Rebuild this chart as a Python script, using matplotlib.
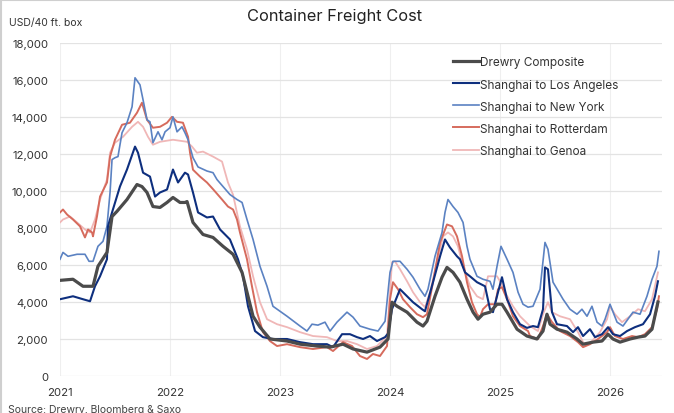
import matplotlib
matplotlib.use("Agg")
import matplotlib.pyplot as plt
from matplotlib.lines import Line2D

plt.rcParams['font.family'] = ['Inter', 'DejaVu Sans']

title = "Container Freight Cost"
ylabel = "USD/40 ft. box"
source = "Source: Drewry, Bloomberg & Saxo"
year_ticks = [2021, 2022, 2023, 2024, 2025, 2026]
y_ticks = list(range(0, 18001, 2000))

composite_t = [2021.000, 2021.118, 2021.209, 2021.300, 2021.345, 2021.427, 2021.473, 2021.518, 2021.609, 2021.700,
               2021.745, 2021.791, 2021.845, 2021.909, 2021.973, 2022.027, 2022.091, 2022.136, 2022.155, 2022.209,
               2022.300, 2022.391, 2022.482, 2022.573, 2022.655, 2022.700, 2022.755, 2022.818, 2022.909, 2023.064,
               2023.182, 2023.336, 2023.455, 2023.573, 2023.664, 2023.791, 2023.909, 2023.982, 2024.018, 2024.064,
               2024.155, 2024.245, 2024.300, 2024.336, 2024.409, 2024.473, 2024.518, 2024.573, 2024.636, 2024.700,
               2024.755, 2024.800, 2024.845, 2024.909, 2024.973, 2025.018, 2025.064, 2025.155, 2025.245, 2025.336,
               2025.391, 2025.427, 2025.455, 2025.518, 2025.609, 2025.700, 2025.755, 2025.845, 2025.927, 2025.982,
               2026.027, 2026.091, 2026.182, 2026.255, 2026.318, 2026.382, 2026.436]
composite_v = [5170, 5230, 4850, 4850, 5930, 6680, 8620, 8900, 9540, 10350,
               10240, 9920, 9160, 9110, 9380, 9650, 9380, 9380, 9430, 8300,
               7650, 7490, 7010, 6580, 5600, 4530, 3230, 2640, 2000, 1890,
               1720, 1620, 1560, 1720, 1460, 1290, 1560, 2000, 3990, 3770,
               3450, 2910, 2700, 2960, 4310, 5340, 5870, 5600, 5070, 4150,
               3450, 3070, 3340, 3450, 3880, 3880, 3450, 2530, 2160, 2000,
               2430, 3340, 2800, 2530, 2370, 2000, 1720, 1830, 1890, 2260,
               2000, 1830, 2000, 2100, 2160, 2530, 4000]

la_t = [2021.000, 2021.118, 2021.209, 2021.273, 2021.318, 2021.364, 2021.427, 2021.436, 2021.473, 2021.545,
        2021.609, 2021.682, 2021.709, 2021.755, 2021.818, 2021.864, 2021.909, 2021.973, 2022.027, 2022.073,
        2022.136, 2022.164, 2022.209, 2022.255, 2022.336, 2022.391, 2022.455, 2022.545, 2022.618, 2022.664,
        2022.709, 2022.773, 2022.845, 2022.936, 2023.064, 2023.182, 2023.300, 2023.427, 2023.482, 2023.564,
        2023.636, 2023.700, 2023.755, 2023.818, 2023.882, 2023.955, 2023.982, 2024.018, 2024.091, 2024.155,
        2024.209, 2024.291, 2024.318, 2024.391, 2024.455, 2024.500, 2024.545, 2024.609, 2024.636, 2024.682,
        2024.727, 2024.791, 2024.864, 2024.909, 2024.936, 2024.982, 2025.018, 2025.064, 2025.118, 2025.182,
        2025.245, 2025.300, 2025.345, 2025.391, 2025.409, 2025.436, 2025.473, 2025.518, 2025.609, 2025.664,
        2025.709, 2025.755, 2025.818, 2025.864, 2025.927, 2025.982, 2026.027, 2026.091, 2026.155, 2026.227,
        2026.300, 2026.364, 2026.409, 2026.436]
la_v = [4150, 4310, 4150, 4040, 4850, 5390, 6310, 8090, 8840, 10240,
        11160, 12400, 12070, 10990, 10780, 9700, 9920, 10080, 11160, 10460,
        10990, 10890, 9920, 8840, 8570, 8620, 7920, 7380, 6310, 5390,
        3770, 2430, 2100, 2000, 2000, 1830, 1720, 1720, 1560, 2260,
        2260, 2100, 2000, 2160, 1890, 2100, 2300, 3610, 4690, 4310,
        3990, 3610, 3500, 5070, 6470, 7380, 6950, 6470, 6310, 5600,
        5390, 5070, 4850, 3610, 3450, 4530, 5340, 4150, 3450, 2800,
        2600, 2700, 2640, 3610, 5870, 5770, 3450, 2800, 2700, 2370,
        2640, 2160, 2530, 2100, 2260, 2640, 2260, 2160, 2430, 2640,
        2800, 3340, 4310, 5120]

ny_t = [2021.000, 2021.027, 2021.073, 2021.155, 2021.227, 2021.264, 2021.300, 2021.345, 2021.391, 2021.427,
        2021.455, 2021.473, 2021.500, 2021.527, 2021.564, 2021.609, 2021.655, 2021.682, 2021.727, 2021.755,
        2021.791, 2021.818, 2021.845, 2021.891, 2021.927, 2021.955, 2022.000, 2022.027, 2022.064, 2022.109,
        2022.136, 2022.164, 2022.209, 2022.255, 2022.336, 2022.391, 2022.427, 2022.482, 2022.545, 2022.609,
        2022.655, 2022.700, 2022.755, 2022.818, 2022.882, 2022.936, 2023.064, 2023.182, 2023.245, 2023.291,
        2023.345, 2023.409, 2023.455, 2023.518, 2023.609, 2023.664, 2023.727, 2023.818, 2023.891, 2023.955,
        2024.000, 2024.027, 2024.091, 2024.155, 2024.209, 2024.273, 2024.318, 2024.345, 2024.409, 2024.473,
        2024.500, 2024.527, 2024.573, 2024.618, 2024.664, 2024.700, 2024.727, 2024.791, 2024.845, 2024.909,
        2024.936, 2024.973, 2025.009, 2025.064, 2025.118, 2025.164, 2025.209, 2025.255, 2025.300, 2025.364,
        2025.409, 2025.436, 2025.482, 2025.573, 2025.636, 2025.700, 2025.745, 2025.791, 2025.836, 2025.882,
        2025.927, 2025.955, 2026.000, 2026.064, 2026.118, 2026.209, 2026.273, 2026.336, 2026.382, 2026.427,
        2026.445]
ny_v = [6310, 6680, 6470, 6580, 6580, 6200, 6200, 7010, 7280, 8090,
        9920, 11700, 11800, 11860, 13150, 13690, 14550, 16120, 15740, 14930,
        13850, 13740, 12610, 13200, 12770, 13200, 13420, 14010, 13200, 13470,
        13150, 12770, 11800, 11300, 11080, 10990, 10620, 10240, 9810, 9540,
        9380, 8460, 7380, 5930, 4850, 3770, 3230, 2700, 2430, 2800,
        2750, 2910, 2430, 2910, 3450, 3180, 2700, 2530, 2430, 2960,
        5600, 6200, 6200, 5770, 5340, 4690, 4310, 4690, 6470, 7760,
        8840, 9540, 9160, 8840, 8300, 7010, 6310, 5390, 5230, 5120,
        4690, 5930, 7010, 6310, 5600, 4530, 3880, 3720, 3770, 4690,
        7220, 6850, 5070, 4150, 3610, 3340, 3610, 3230, 3770, 2910,
        2700, 3070, 3880, 2910, 2700, 3450, 3340, 4310, 5230, 5930,
        6740]

rot_t = [2021.000, 2021.027, 2021.064, 2021.118, 2021.182, 2021.227, 2021.255, 2021.291, 2021.300, 2021.336,
         2021.364, 2021.427, 2021.455, 2021.500, 2021.564, 2021.636, 2021.700, 2021.745, 2021.791, 2021.845,
         2021.909, 2021.973, 2022.018, 2022.064, 2022.118, 2022.164, 2022.182, 2022.209, 2022.273, 2022.336,
         2022.391, 2022.473, 2022.527, 2022.573, 2022.609, 2022.636, 2022.700, 2022.745, 2022.791, 2022.845,
         2022.909, 2022.973, 2023.064, 2023.182, 2023.300, 2023.427, 2023.482, 2023.573, 2023.655, 2023.727,
         2023.791, 2023.845, 2023.909, 2023.973, 2024.000, 2024.027, 2024.073, 2024.118, 2024.182, 2024.245,
         2024.300, 2024.336, 2024.391, 2024.455, 2024.518, 2024.564, 2024.609, 2024.655, 2024.700, 2024.745,
         2024.791, 2024.818, 2024.845, 2024.891, 2024.955, 2024.982, 2025.018, 2025.064, 2025.118, 2025.182,
         2025.255, 2025.273, 2025.345, 2025.391, 2025.427, 2025.473, 2025.545, 2025.636, 2025.709, 2025.755,
         2025.818, 2025.891, 2025.973, 2026.000, 2026.045, 2026.118, 2026.200, 2026.255, 2026.318, 2026.382,
         2026.427, 2026.445]
rot_v = [8840, 9000, 8730, 8460, 8090, 7490, 7920, 7760, 7550, 8620,
         9700, 10460, 11860, 12770, 13580, 13690, 14230, 14770, 13850, 13420,
         13470, 13690, 14010, 13740, 13690, 12930, 12070, 11150, 10780, 10460,
         10100, 9540, 9160, 9000, 8460, 7760, 6310, 4850, 3450, 2370,
         1890, 1620, 1720, 1560, 1460, 1560, 1350, 1830, 1620, 1080,
         920, 1190, 1080, 1620, 4150, 5070, 4690, 4150, 3720, 3340,
         3180, 3340, 5070, 7220, 8190, 8090, 7550, 6470, 5070, 3990,
         3340, 3180, 3610, 3880, 3880, 4690, 4800, 4150, 3230, 2700,
         2430, 2160, 2000, 2700, 3340, 2910, 2430, 2160, 1830, 1560,
         1720, 2000, 2370, 2640, 2160, 2000, 2160, 2100, 2260, 2640,
         3610, 4310]

gen_t = [2021.000, 2021.027, 2021.091, 2021.155, 2021.227, 2021.273, 2021.318, 2021.364, 2021.427, 2021.455,
         2021.500, 2021.573, 2021.655, 2021.709, 2021.755, 2021.800, 2021.845, 2021.909, 2022.027, 2022.155,
         2022.200, 2022.245, 2022.300, 2022.391, 2022.473, 2022.527, 2022.573, 2022.636, 2022.700, 2022.755,
         2022.818, 2022.882, 2022.973, 2023.064, 2023.182, 2023.300, 2023.427, 2023.518, 2023.609, 2023.700,
         2023.791, 2023.882, 2023.973, 2024.018, 2024.045, 2024.091, 2024.155, 2024.209, 2024.273, 2024.318,
         2024.364, 2024.427, 2024.482, 2024.527, 2024.573, 2024.618, 2024.664, 2024.727, 2024.791, 2024.845,
         2024.891, 2024.973, 2025.000, 2025.045, 2025.118, 2025.182, 2025.273, 2025.345, 2025.391, 2025.436,
         2025.473, 2025.545, 2025.636, 2025.709, 2025.773, 2025.836, 2025.909, 2025.973, 2026.000, 2026.045,
         2026.109, 2026.182, 2026.255, 2026.318, 2026.382, 2026.436]
gen_v = [8300, 8460, 8620, 8300, 7920, 7760, 8460, 9540, 10620, 12070,
         12610, 12930, 13470, 13740, 13470, 12930, 12500, 12660, 12770, 12660,
         12400, 12070, 12130, 11860, 11590, 10460, 9800, 8090, 6850, 5390,
         3990, 3070, 2800, 2640, 2370, 2160, 2100, 1890, 1890, 1720,
         1460, 1620, 2160, 6150, 6200, 5770, 5120, 4530, 3990, 3720,
         4530, 6150, 7550, 7760, 7550, 7010, 5930, 4850, 4310, 4150,
         5390, 5390, 5120, 4530, 3770, 3230, 2700, 2430, 3340, 3990,
         3450, 3230, 3070, 2370, 1620, 1890, 2370, 3070, 3770, 3340,
         2910, 3230, 3610, 3500, 4150, 5600]

series = [
    ("Drewry Composite", composite_t, composite_v, "#4b4b4b", 2.3, 6),
    ("Shanghai to Los Angeles", la_t, la_v, "#0e2f7e", 1.5, 5),
    ("Shanghai to New York", ny_t, ny_v, "#5b82c2", 1.2, 4),
    ("Shanghai to Rotterdam", rot_t, rot_v, "#d66b5d", 1.4, 3),
    ("Shanghai to Genoa", gen_t, gen_v, "#f0b7b7", 1.3, 2),
]

W, H = 674, 414
fig = plt.figure(figsize=(W / 100, H / 100), dpi=100)
fig.patch.set_facecolor("white")
ax = fig.add_axes([60 / W, 1 - 377 / H, (662 - 60) / W, (377 - 44) / H])

handles = []
for name, t, v, c, lw, z in series:
    ax.plot(t, v, color=c, lw=lw, zorder=z, solid_joinstyle="round")
    handles.append(Line2D([], [], color=c, lw=lw, label=name))

ax.set_xlim(2021, 2021 + (662 - 60) / 110)
ax.set_ylim(0, 18000)
ax.set_xticks(year_ticks)
ax.set_xticklabels([str(y) for y in year_ticks])
ax.set_yticks(y_ticks)
ax.set_yticklabels([f"{y:,}" for y in y_ticks])
ax.tick_params(axis="both", length=0, labelsize=8.2, colors="#333333")
ax.tick_params(axis="y", pad=8.5)
ax.tick_params(axis="x", pad=8)
for s in ax.spines.values():
    s.set_visible(False)
ax.grid(axis="y", color="#e3e3e3", lw=0.9, zorder=0)
ax.grid(axis="x", color="#efefef", lw=0.8, zorder=0)
ax.set_axisbelow(True)

fig.text(335 / W, 1 - 17 / H, title, ha="center", va="center", fontsize=11.8, color="#222222")
fig.text(9 / W, 1 - 23 / H, ylabel, ha="left", va="center", fontsize=7.5, color="#333333")
fig.text(8 / W, 1 - 410 / H, source, ha="left", va="center", fontsize=7.5, color="#444444")

leg = fig.legend(handles=handles, loc="upper left", bbox_to_anchor=(453 / W, 1 - 57.5 / H),
                 bbox_transform=fig.transFigure, frameon=False, fontsize=8.5,
                 handlelength=2.2, handletextpad=0.1, labelspacing=0.85,
                 borderpad=0, borderaxespad=0)
for txt in leg.get_texts():
    txt.set_color("#333333")

fig.add_artist(Line2D([1 / W, 1 / W], [0, 1], transform=fig.transFigure, color="#cfcfcf", lw=1.5))
fig.add_artist(Line2D([0, 1], [1 - 0.5 / H, 1 - 0.5 / H], transform=fig.transFigure, color="#cfcfcf", lw=1.5))

fig.savefig("out.png", dpi=100)
